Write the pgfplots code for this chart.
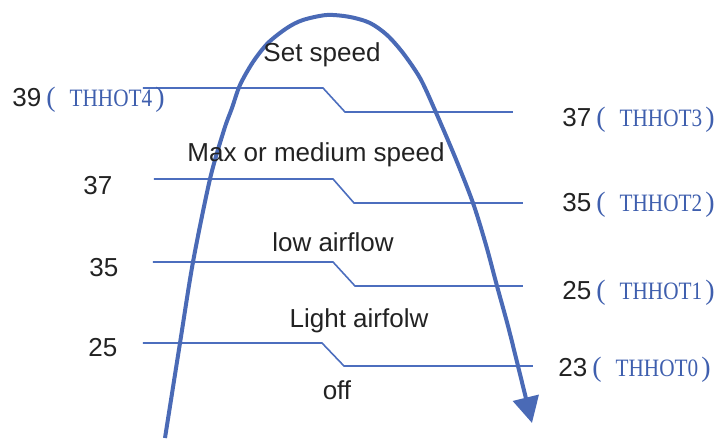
\documentclass[border=0pt]{standalone}
\usepackage{pgfplots}
\pgfplotsset{compat=1.18}
\usepackage{fontspec}
\setmainfont{Liberation Sans}
\newfontfamily\parfont{Liberation Serif}
\newfontfamily\thfont[FakeStretch=0.85]{Liberation Serif}
\usetikzlibrary{arrows.meta}
\definecolor{cb}{HTML}{4A6AB6}
\definecolor{lb}{HTML}{4C6EBE}
\definecolor{tb}{HTML}{3F5FAE}
\definecolor{tx}{HTML}{222222}
\newcommand{\thh}[1]{\textcolor{tb}{\hspace{2.5pt}{\parfont\fontsize{14}{16}\selectfont (}\hspace{7pt}{\thfont\fontsize{12.5}{14}\selectfont #1}\hspace{1.5pt}{\parfont\fontsize{14}{16}\selectfont )}}}
\tikzset{lab/.style={font=\fontsize{13}{15}\selectfont, text=tx, inner sep=0pt}}
\begin{document}
\begin{tikzpicture}
\begin{axis}[scale only axis, width=360pt, height=220.5pt,
  xmin=0, xmax=720, ymin=-441, ymax=0, hide axis, clip=false]
% step lines
\addplot[lb, line width=0.8pt] coordinates {(143,-88)(323,-88)(345,-112)(513,-112)};
\addplot[lb, line width=0.8pt] coordinates {(154,-179)(333,-179)(354,-203)(523,-203)};
\addplot[lb, line width=0.8pt] coordinates {(153,-262)(333,-262)(355,-286)(523,-286)};
\addplot[lb, line width=0.8pt] coordinates {(143,-343)(322,-343)(344,-366)(533,-366)};
% arch arrow
\addplot[cb, line width=2pt, smooth, tension=0.5, -{Triangle[length=13pt, width=13pt]}] coordinates {
(165,-438)(180,-343)(193,-262)(210,-179)(224,-130)(232,-108)(240,-85)(253,-62)(268,-43)(287,-28)(303,-20)(327,-15)
(350,-17)(370,-23)(387,-35)(403,-53)(420,-78)(434,-108)(455,-157)(473,-203)(486,-245)(497,-286)(508,-326)(518,-366)(532,-423)};
% labels
\node[lab, anchor=base] at (axis cs:322,-62) {Set speed};
\node[lab, anchor=base] at (axis cs:316,-162) {Max or medium speed};
\node[lab, anchor=base] at (axis cs:333,-252) {low airflow};
\node[lab, anchor=base] at (axis cs:359,-328) {Light airfolw};
\node[lab, anchor=base] at (axis cs:337,-399) {off};
% left values
\node[lab, anchor=base west] at (axis cs:12,-107) {39\thh{THHOT4}};
\node[lab, anchor=base west] at (axis cs:83,-195) {37};
\node[lab, anchor=base west] at (axis cs:89,-277) {35};
\node[lab, anchor=base west] at (axis cs:88,-357) {25};
% right values
\node[lab, anchor=base west] at (axis cs:562,-127) {37\thh{THHOT3}};
\node[lab, anchor=base west] at (axis cs:562,-212) {35\thh{THHOT2}};
\node[lab, anchor=base west] at (axis cs:562,-300) {25\thh{THHOT1}};
\node[lab, anchor=base west] at (axis cs:558,-377) {23\thh{THHOT0}};
\end{axis}
\pgfresetboundingbox
\useasboundingbox (current axis.south west) rectangle (current axis.north east);
\end{tikzpicture}
\end{document}
